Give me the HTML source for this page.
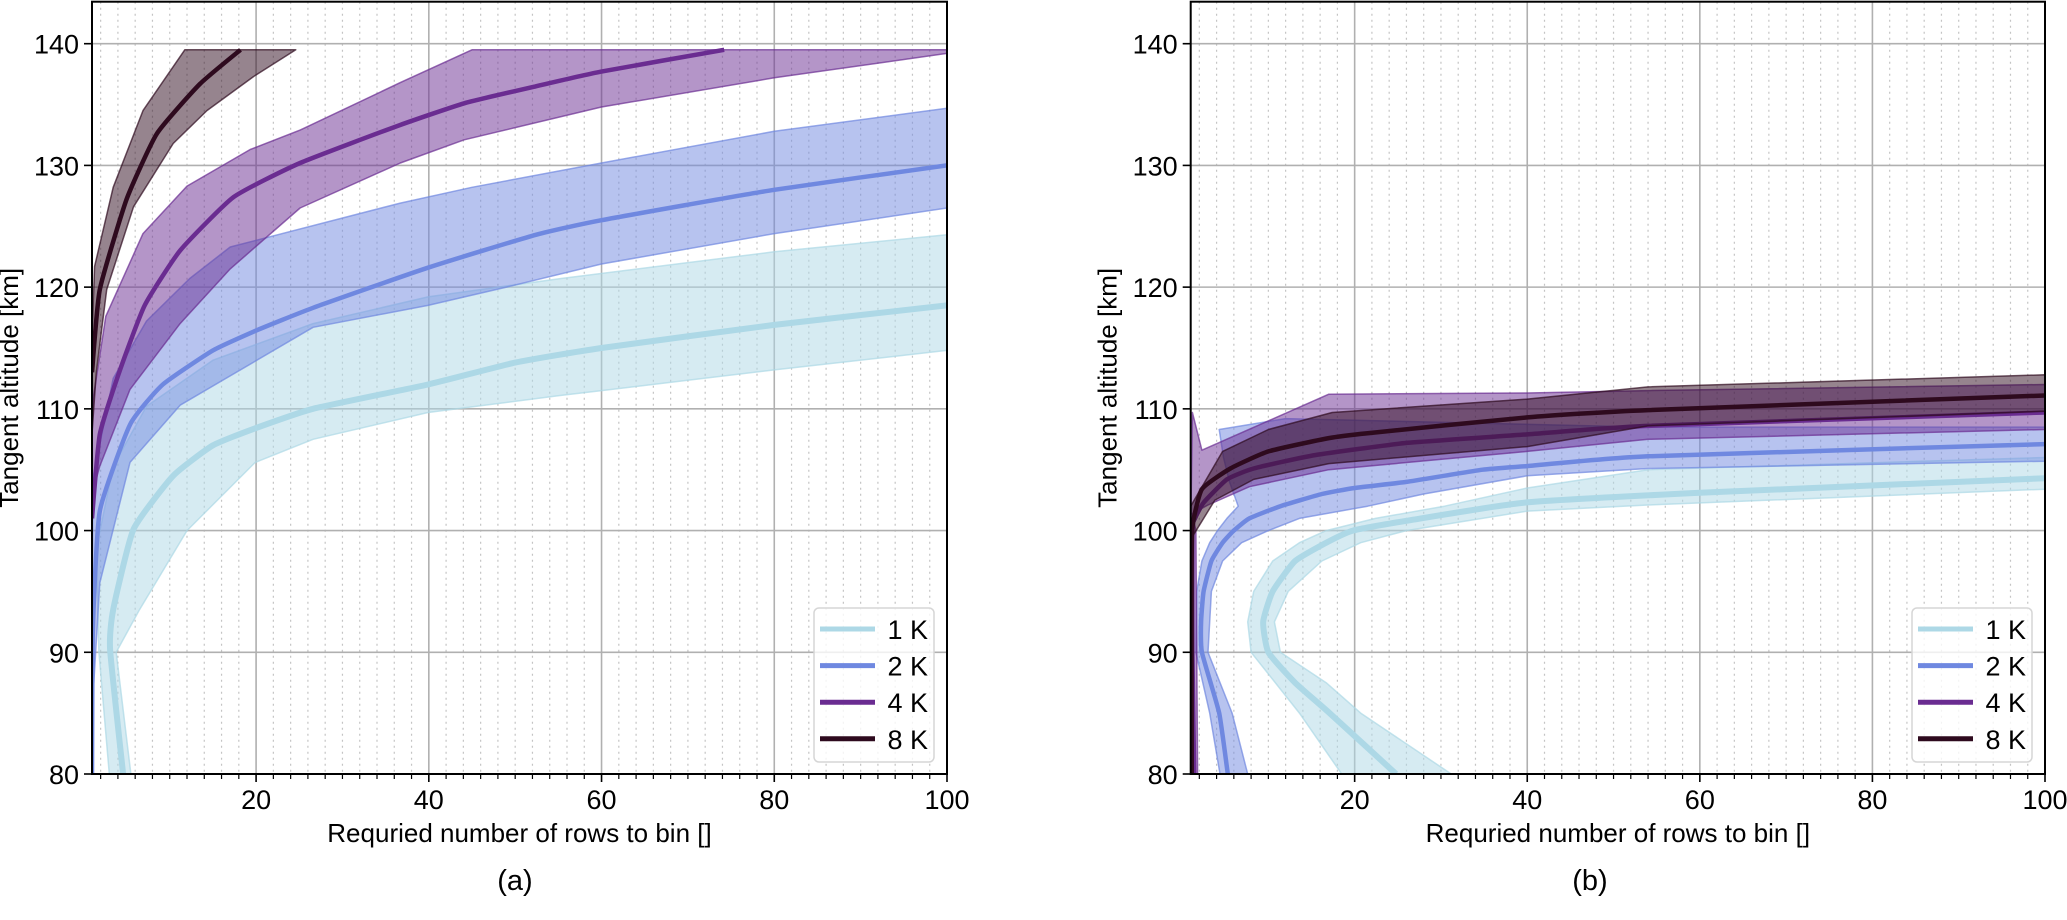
<!DOCTYPE html>
<html><head><meta charset="utf-8">
<style>
html,body{margin:0;padding:0;background:#fff;}
svg{display:block;font-family:"Liberation Sans","DejaVu Sans",sans-serif;}
</style></head>
<body>
<svg id="fig" width="2067" height="920" viewBox="0 0 2067 920" xmlns="http://www.w3.org/2000/svg">
<rect width="2067" height="920" fill="#fff"/>
</svg>
<script>
// ---- data ----
const seriesNames = ["1 K","2 K","4 K","8 K"];
const seriesColors = ["#add8e6","#6f88e0","#6a2c91","#2e0a1e"];
const xTicks = [20,40,60,80,100];
const yTicks = [80,90,100,110,120,130,140];

// Panel (a): [x values], [altitude values]
const a1LineX = [4.6,3.1,3.45,5.8,10.4,15,19.9,26.6,39.9,50,60,80,100];
const a1LineY = [80,90.2,93.5,100.1,104.5,107,108.4,110,112,113.8,115,116.9,118.5];
const a1UpX = [3,1.8,1.5,3.45,7.3,15,26.6,39.9,55.2,80,100];
const a1UpY = [80,90,98.5,105.3,110.2,114,117,119.2,120.7,122.9,124.3];
const a1LoX = [5.5,3.8,6.5,12,19.9,26.6,39.9,55.2,60,80,100];
const a1LoY = [80,90,93.5,100,105.6,107.5,109.7,111.1,111.5,113.2,114.8];

const a2LineX = [1,1.1,1.9,5.4,9.2,15,19.9,26.6,39.9,52.4,60,80,100];
const a2LineY = [80,92,101.6,108.7,112,114.8,116.4,118.3,121.6,124.3,125.5,128,130];
const a2UpX = [1,1.1,3.45,7.3,12.3,17,36.7,45,60,80,100];
const a2UpY = [95,104.3,112.5,117.2,120.7,123.3,126.9,128.2,130.2,132.8,134.7];
const a2LoX = [1,1.9,5.4,11.2,26.6,39.9,49,60,80,100];
const a2LoY = [85,95.7,105.6,110.3,116.7,118.5,120,121.9,124.4,126.5];

const a4LineX = [1,1.9,4.2,7.1,11.2,17.4,25.1,36.6,44.1,52.4,59.9,74.2];
const a4LineY = [101,107.9,113.1,118.5,123,127.4,130.2,133.3,135.1,136.5,137.7,139.5];
const a4UpX = [1,1.1,2.6,6.9,12,19.3,25.1,36.7,45,100];
const a4UpY = [107,110.7,117.6,124.4,128.3,131.3,132.9,136.8,139.5,139.5];
const a4LoX = [1,1.9,5.4,11.2,17,25.1,36.7,44.1,60,80,100];
const a4LoY = [103,105.3,111.6,117,121.5,126.5,130.2,132.1,134.8,137.2,139.2];

const a8LineX = [1,1.9,5,8.5,13.5,18.2];
const a8LineY = [113,119.8,127.2,132.6,136.7,139.5];
const a8UpX = [1,1.3,3.45,6.9,11.75,24.6];
const a8UpY = [116,121.7,128.2,134.5,139.5,139.5];
const a8LoX = [1,1.5,2.7,5.8,10.4,14.3,19.7,24.6];
const a8LoY = [108,113,119.8,126.6,131.8,134.5,137.3,139.5];

// Panel (b)
const b1LineX = [24.8,17.1,13.1,10,9.4,10.5,13.1,16.7,19.8,26,39.7,60,100];
const b1LineY = [80,85,87.5,90,92.5,95,97.5,99,100,100.8,102.3,103.1,104.3];
const b1UpX = [18.5,13.6,8,7.6,8.3,10.5,13.6,16.7,22.4,30.4,40,54,100];
const b1UpY = [80,85,90,92.5,95,97.5,99,100,101,102,103.5,105,106];
const b1LoX = [31.2,20.7,16.7,11.4,10.7,12.3,16.2,20.7,26,40,54,100];
const b1LoY = [80,85,87.5,90,92.5,95,97.5,99,100,101.6,102.1,103.4];

const b2LineX = [5.3,4.3,2.3,2.2,2.5,3.4,4.7,6,7.8,11.4,16.2,20,26,34.8,40,54,100];
const b2LineY = [80,85,90,92.5,95,97.5,99,100,101,102,103,103.5,104,105,105.3,106.1,107.1];
const b2UpX = [4.4,3.2,1.6,1.7,2.3,3.2,4.1,5.2,6.5,5.5,4.8,4.3,12,54,100];
const b2UpY = [80,85,90,95,97.5,99,100,101,102,104,106,108.3,109.2,108.5,108.5];
const b2LoX = [7.6,5.8,3,3.4,4.7,6.9,10,13.6,21.5,28,40,54,100];
const b2LoY = [80,85,90,95,97.5,99,100,101,102,103,104.5,105.1,105.7];

const b4LineX = [1.4,1.2,1.2,1.5,2.5,5.2,8.3,15.4,26,40,54,100];
const b4LineY = [80,90,100,101,102.3,104.2,105.1,106.2,107.2,107.9,108.6,109.7];
const b4UpX = [1,1,1.2,2.3,17,40,54,100];
const b4UpY = [80,100,109.7,106.6,111.2,111.3,111.5,112];
const b4LoX = [1.8,1.6,1.2,3,7.8,17,40,54,100];
const b4LoY = [80,100,101.4,102.1,103.6,105,106.5,107.5,108.3];

const b8LineX = [1.1,1.1,1.2,2.3,5.6,10,17,21.5,40,54,100];
const b8LineY = [80,95,100.3,103.4,105.1,106.5,107.6,108,109.3,109.9,111.1];
const b8UpX = [1,1,4.7,10,17.4,40,54,100];
const b8UpY = [80,102,106.5,108.3,109.7,110.8,111.8,112.8];
const b8LoX = [1.3,1.2,3.8,8.3,17,40,54,100];
const b8LoY = [80,99.5,102.5,104.2,105.5,106.9,108.6,109.8];

// ---- drawing ----
const NS = "http://www.w3.org/2000/svg";
const svg = document.getElementById("fig");
function mk(tag, attrs, parent){
  const e = document.createElementNS(NS, tag);
  for (const k in attrs) e.setAttribute(k, attrs[k]);
  (parent||svg).appendChild(e);
  return e;
}
function smooth(P){
  let d = "M" + P[0][0].toFixed(1) + "," + P[0][1].toFixed(1);
  for (let i = 0; i < P.length - 1; i++) {
    const p0 = P[Math.max(0,i-1)], p1 = P[i], p2 = P[i+1], p3 = P[Math.min(P.length-1,i+2)];
    const t = 0.08;
    const c1 = [p1[0] + (p2[0]-p0[0])*t, p1[1] + (p2[1]-p0[1])*t];
    const c2 = [p2[0] - (p3[0]-p1[0])*t, p2[1] - (p3[1]-p1[1])*t];
    d += "C" + c1[0].toFixed(1) + "," + c1[1].toFixed(1) + " " + c2[0].toFixed(1) + "," + c2[1].toFixed(1) + " " + p2[0].toFixed(1) + "," + p2[1].toFixed(1);
  }
  return d;
}
const X_MIN = 1, X_MAX = 100, Y_MIN = 80, Y_MAX = 143.45;
const panels = [
  {id:"a", left:92, right:947, top:1.7, bottom:774, label:"(a)", labelX:515,
   series:[[a1LineX,a1LineY,a1UpX,a1UpY,a1LoX,a1LoY],[a2LineX,a2LineY,a2UpX,a2UpY,a2LoX,a2LoY],[a4LineX,a4LineY,a4UpX,a4UpY,a4LoX,a4LoY],[a8LineX,a8LineY,a8UpX,a8UpY,a8LoX,a8LoY]]},
  {id:"b", left:1190.7, right:2045, top:1.7, bottom:774, label:"(b)", labelX:1590,
   series:[[b1LineX,b1LineY,b1UpX,b1UpY,b1LoX,b1LoY],[b2LineX,b2LineY,b2UpX,b2UpY,b2LoX,b2LoY],[b4LineX,b4LineY,b4UpX,b4UpY,b4LoX,b4LoY],[b8LineX,b8LineY,b8UpX,b8UpY,b8LoX,b8LoY]]}
];

panels.forEach(p => {
  const sx = v => p.left + (v - X_MIN) / (X_MAX - X_MIN) * (p.right - p.left);
  const sy = v => p.bottom - (v - Y_MIN) / (Y_MAX - Y_MIN) * (p.bottom - p.top);
  const g = mk("g", {});
  
  
  const defs = mk("defs", {}, g);
  const cp = mk("clipPath", {id:"clip-"+p.id}, defs);
  mk("rect", {x:p.left, y:p.top, width:p.right-p.left, height:p.bottom-p.top}, cp);

  const grid = mk("g", {}, g);
  
  
  for (let v = 2; v < 100; v += 2) {
    if (v % 20 === 0) continue;
    const ln = mk("line", {x1:sx(v), x2:sx(v), y1:p.top, y2:p.bottom, stroke:"#c4c4c4", "stroke-width":1.2, "stroke-dasharray":"2,4"}, grid);
    
    
    const tk = mk("line", {x1:sx(v), x2:sx(v), y1:p.bottom, y2:p.bottom+5, stroke:"#000", "stroke-width":1.2}, g);
    
    
  }
  xTicks.forEach(v => {
    if (v < 100) {
      const ln = mk("line", {x1:sx(v), x2:sx(v), y1:p.top, y2:p.bottom, stroke:"#b0b0b0", "stroke-width":1.6}, grid);
      
      
    }
    const tk = mk("line", {x1:sx(v), x2:sx(v), y1:p.bottom, y2:p.bottom+8, stroke:"#000", "stroke-width":1.6}, g);
    
    
    const t = mk("text", {x:sx(v), y:p.bottom+35, "font-size":27, "text-anchor":"middle", fill:"#000"}, g);
    t.textContent = v;
    
    
  });
  yTicks.forEach(v => {
    if (v > 80) {
      const ln = mk("line", {x1:p.left, x2:p.right, y1:sy(v), y2:sy(v), stroke:"#b0b0b0", "stroke-width":1.6}, grid);
      
      
    }
    const tk = mk("line", {x1:p.left-8, x2:p.left, y1:sy(v), y2:sy(v), stroke:"#000", "stroke-width":1.6}, g);
    
    
    const t = mk("text", {x:p.left-13, y:sy(v)+10, "font-size":27, "text-anchor":"end", fill:"#000"}, g);
    t.textContent = v;
    
    
  });

  const plot = mk("g", {"clip-path":"url(#clip-"+p.id+")"}, g);
  p.series.forEach((s, i) => {
    const [lx, ly, ux, uy, ox, oy] = s;
    const pts = ux.map((v,k) => sx(v).toFixed(1) + "," + sy(uy[k]).toFixed(1))
      .concat(ox.map((v,k) => sx(v).toFixed(1) + "," + sy(oy[k]).toFixed(1)).reverse());
    const band = mk("polygon", {points:pts.join(" "), fill:seriesColors[i], "fill-opacity":0.5, stroke:seriesColors[i], "stroke-opacity":0.7, "stroke-width":1.5, "stroke-linejoin":"round"}, plot);
    
    
    const lp = lx.map((v,k) => [sx(v), sy(ly[k])]);
    const line = mk("path", {d:smooth(lp), fill:"none", stroke:seriesColors[i], "stroke-width":i===0?6:4.5, "stroke-linejoin":"round"}, plot);
    
    
  });

  const fr = mk("rect", {x:p.left, y:p.top, width:p.right-p.left, height:p.bottom-p.top, fill:"none", stroke:"#000", "stroke-width":2}, g);
  
  

  const xl = mk("text", {x:(p.left+p.right)/2, y:p.bottom+68, "font-size":26, "text-anchor":"middle", fill:"#000"}, g);
  xl.textContent = "Requried number of rows to bin []";
  
  
  const ycx = p.left - 74, ycy = (p.top + p.bottom) / 2;
  const yl = mk("text", {x:ycx, y:ycy, "font-size":26, "text-anchor":"middle", fill:"#000", transform:"rotate(-90 "+ycx+" "+ycy+")"}, g);
  yl.textContent = "Tangent altitude [km]";
  
  
  const pl = mk("text", {x:p.labelX, y:890, "font-size":29, "text-anchor":"middle", fill:"#000"}, g);
  pl.textContent = p.label;
  
  

  const lg = mk("g", {}, g);
  
  
  const bx = p.right - 133, by = 608;
  mk("rect", {x:bx, y:by, width:120, height:154, rx:5, fill:"#fff", "fill-opacity":0.8, stroke:"#d6d6d6", "stroke-width":1.5}, lg);
  seriesNames.forEach((nm, i) => {
    const yy = by + 21 + i * 36.6;
    const e = mk("g", {}, lg);
    
    
    mk("line", {x1:bx+6, x2:bx+61, y1:yy, y2:yy, stroke:seriesColors[i], "stroke-width":5}, e);
    const t = mk("text", {x:bx+114, y:yy+10, "font-size":27, "text-anchor":"end", fill:"#000"}, e);
    t.textContent = nm;
  });
});
</script>
</body></html>
